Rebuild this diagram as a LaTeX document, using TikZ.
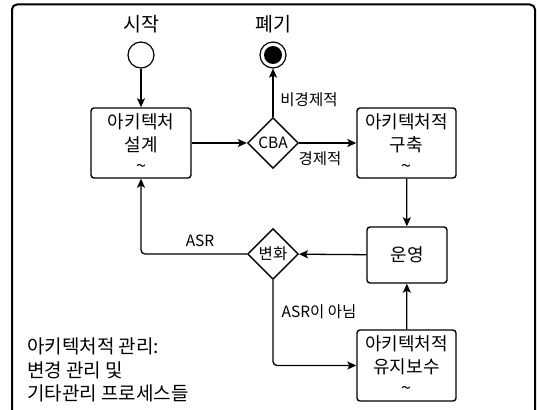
\documentclass[tikz,border=0pt]{standalone}
\usepackage{fontspec}
\setmainfont{Noto Sans CJK KR}
\usetikzlibrary{shapes.geometric,arrows.meta}
\begin{document}
\begin{tikzpicture}[x=1pt,y=-1pt,
  box/.style={draw,line width=1.4pt,rounded corners=3pt,align=center,inner sep=0pt,
    font=\fontsize{18}{23}\selectfont},
  dia/.style={draw,diamond,aspect=1,line width=1.4pt,minimum size=51pt,inner sep=0pt,
    font=\fontsize{15.5}{18}\selectfont},
  conn/.style={line width=1.3pt,-{Stealth[length=9pt,width=8pt,inset=2pt]}},
  lbl/.style={font=\fontsize{15.5}{18}\selectfont,inner sep=0pt},
  ttl/.style={font=\fontsize{19.5}{22}\selectfont,inner sep=0pt}]
\useasboundingbox (0,0) rectangle (537,409);
\begin{scope}
\clip (0,0) rectangle (537,409);
\draw[line width=2pt,rounded corners=5pt] (12,4.5) rectangle (535,420);
\end{scope}
\node[ttl] (tstart) at (141,24) {시작};
\node[ttl] (tend) at (273,24) {폐기};
\node[draw,circle,line width=1.2pt,minimum size=26pt,inner sep=0pt] (start) at (141,55) {};
\node[draw,circle,line width=1.2pt,minimum size=26pt,inner sep=0pt] (end) at (273,55) {};
\fill (end.center) circle (9pt);
\node[box,minimum width=100pt,minimum height=70pt] (design) at (141,143) {아키텍처\\설계\\[-2pt]\textasciitilde};
\node[dia] (cba) at (273,143) {CBA};
\node[box,minimum width=99pt,minimum height=70pt] (build) at (406.5,143) {아키텍처적\\구축\\[-2pt]\textasciitilde};
\node[box,minimum width=80pt,minimum height=56pt] (ops) at (407,255) {운영};
\node[dia] (chg) at (273,254) {변화};
\node[box,minimum width=99pt,minimum height=71pt] (maint) at (406.5,365.5) {아키텍처적\\유지보수\\[-2pt]\textasciitilde};
\draw[conn] (start) -- (design);
\draw[conn] (design) -- (cba);
\draw[conn] (cba) -- (end);
\draw[conn] (cba) -- (build);
\draw[conn] (build) -- (ops);
\draw[conn] (ops) -- (chg);
\draw[conn,rounded corners=4pt] (chg.west) -| (design.south);
\draw[conn,rounded corners=4pt] (chg.south) |- (maint.west);
\draw[conn] (maint) -- (ops);
\node[lbl] (l1) at (309,100) {비경제적};
\node[lbl] (l2) at (320,159) {경제적};
\node[lbl] (l3) at (200,241) {ASR};
\node[lbl] (l4) at (319,312) {ASR이 아님};
\node[anchor=north west,align=left,inner sep=0pt,font=\fontsize{19}{23.5}\selectfont] (note) at (27,338) {아키텍처적 관리:\\변경 관리 및\\기타관리 프로세스들};
\end{tikzpicture}
\end{document}
